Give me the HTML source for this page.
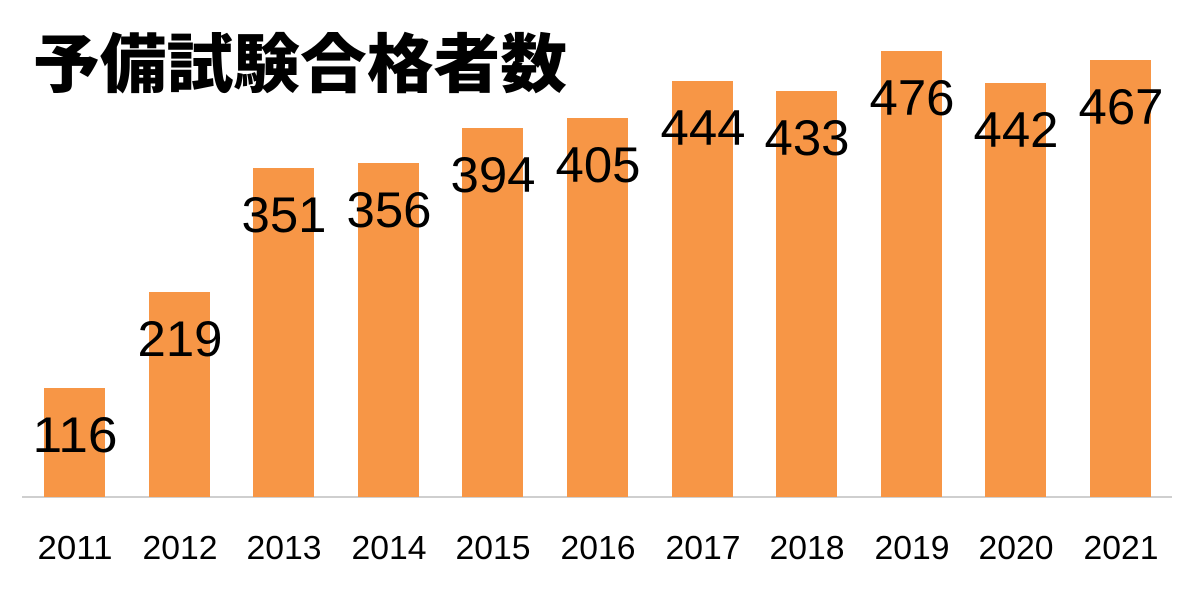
<!DOCTYPE html>
<html><head><meta charset="utf-8"><style>html,body{margin:0;padding:0;background:#fff;}svg{display:block}</style></head>
<body>
<svg width="1200" height="600" xmlns="http://www.w3.org/2000/svg">
<rect width="1200" height="600" fill="#fff"/>
<text x="33" y="87" font-family="'Noto Sans CJK JP', sans-serif" font-weight="900" font-size="64" textLength="534" lengthAdjust="spacingAndGlyphs">予備試験合格者数</text>
<line x1="22" y1="497" x2="1172" y2="497" stroke="#bfbfbf" stroke-width="1.5"/>
<g fill="#f79646">
<rect x="44" y="388" width="61" height="109"/>
<rect x="149" y="292" width="61" height="205"/>
<rect x="253" y="168" width="61" height="329"/>
<rect x="358" y="163" width="61" height="334"/>
<rect x="462" y="128" width="61" height="369"/>
<rect x="567" y="118" width="61" height="379"/>
<rect x="672" y="81" width="61" height="416"/>
<rect x="776" y="91" width="61" height="406"/>
<rect x="881" y="51" width="61" height="446"/>
<rect x="985" y="83" width="61" height="414"/>
<rect x="1090" y="60" width="61" height="437"/>
</g>
<g font-family="'Liberation Sans', sans-serif" font-size="50" text-anchor="middle" fill="#000">
<text x="75" y="452" textLength="85" lengthAdjust="spacingAndGlyphs">116</text>
<text x="180" y="356" textLength="85" lengthAdjust="spacingAndGlyphs">219</text>
<text x="284" y="232" textLength="85" lengthAdjust="spacingAndGlyphs">351</text>
<text x="389" y="227" textLength="85" lengthAdjust="spacingAndGlyphs">356</text>
<text x="493" y="192" textLength="85" lengthAdjust="spacingAndGlyphs">394</text>
<text x="598" y="182" textLength="85" lengthAdjust="spacingAndGlyphs">405</text>
<text x="703" y="145" textLength="85" lengthAdjust="spacingAndGlyphs">444</text>
<text x="807" y="155" textLength="85" lengthAdjust="spacingAndGlyphs">433</text>
<text x="912" y="115" textLength="85" lengthAdjust="spacingAndGlyphs">476</text>
<text x="1016" y="147" textLength="85" lengthAdjust="spacingAndGlyphs">442</text>
<text x="1121" y="124" textLength="85" lengthAdjust="spacingAndGlyphs">467</text>
</g>
<g font-family="'Liberation Sans', sans-serif" font-size="33" text-anchor="middle" fill="#000">
<text x="75" y="559" textLength="75" lengthAdjust="spacingAndGlyphs">2011</text>
<text x="180" y="559" textLength="75" lengthAdjust="spacingAndGlyphs">2012</text>
<text x="284" y="559" textLength="75" lengthAdjust="spacingAndGlyphs">2013</text>
<text x="389" y="559" textLength="75" lengthAdjust="spacingAndGlyphs">2014</text>
<text x="493" y="559" textLength="75" lengthAdjust="spacingAndGlyphs">2015</text>
<text x="598" y="559" textLength="75" lengthAdjust="spacingAndGlyphs">2016</text>
<text x="703" y="559" textLength="75" lengthAdjust="spacingAndGlyphs">2017</text>
<text x="807" y="559" textLength="75" lengthAdjust="spacingAndGlyphs">2018</text>
<text x="912" y="559" textLength="75" lengthAdjust="spacingAndGlyphs">2019</text>
<text x="1016" y="559" textLength="75" lengthAdjust="spacingAndGlyphs">2020</text>
<text x="1121" y="559" textLength="75" lengthAdjust="spacingAndGlyphs">2021</text>
</g>
</svg>
</body></html>
